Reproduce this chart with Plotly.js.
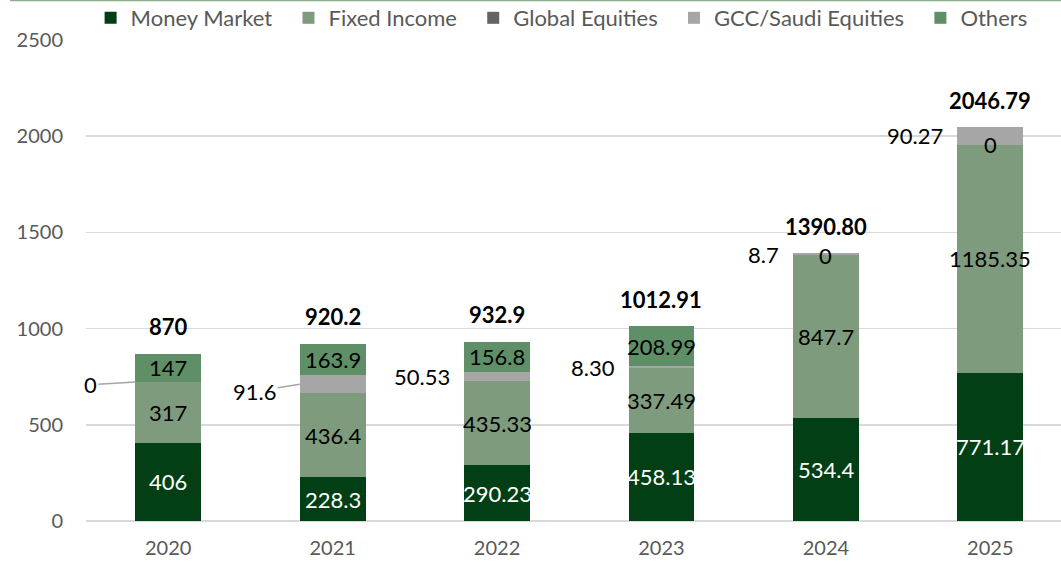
<!DOCTYPE html>
<html>
<head>
<meta charset="utf-8">
<script src="https://cdn.plot.ly/plotly-3.0.1.min.js"></script>
<style>html,body{margin:0;padding:0;background:#fff;}#chart{width:1061px;height:564px;}</style>
</head>
<body>
<div id="chart"></div>
<script>
const years = ['2020', '2021', '2022', '2023', '2024', '2025'];
const seriesNames = ['Money Market', 'Fixed Income', 'Global Equities', 'GCC/Saudi Equities', 'Others'];
const moneyMarket = [406, 228.3, 290.23, 458.13, 534.4, 771.17];
const fixedIncome = [317, 436.4, 435.33, 337.49, 847.7, 1185.35];
const globalEquities = [0, 0, 0, 0, 0, 0];
const gccSaudi = [0, 91.6, 50.53, 8.30, 8.7, 90.27];
const others = [147, 163.9, 156.8, 208.99, 0, 0];
const totalLabels = ['870', '920.2', '932.9', '1012.91', '1390.80', '2046.79'];
const mmLabels = ['406', '228.3', '290.23', '458.13', '534.4', '771.17'];
const fiLabels = ['317', '436.4', '435.33', '337.49', '847.7', '1185.35'];
const geLabels = ['', '', '', '', '0', '0'];
const gccLabels = ['0', '91.6', '50.53', '8.30', '8.7', '90.27'];
const othersLabels = ['147', '163.9', '156.8', '208.99', '', ''];

const FONT = 'Lato, "Open Sans", sans-serif';
const BW = 0.4;
const colors = ['#023F14', '#7F9B7E', '#636466', '#A6A6A6', '#5F8F66'];
const PAD = '\u00a0\u00a0';

function barTrace(idx, vals) {
  return {
    type: 'bar', name: seriesNames[idx] + PAD, x: years, y: vals, width: BW,
    marker: {color: colors[idx], line: {width: 0}},
    textposition: 'none', hoverinfo: 'skip'
  };
}

const traces = [
  barTrace(0, moneyMarket),
  barTrace(1, fixedIncome),
  barTrace(2, globalEquities),
  barTrace(3, gccSaudi),
  barTrace(4, others)
];

const annotations = [];
const lblFont = (c) => ({family: FONT, size: 22, color: c});
years.forEach((yr, i) => {
  const mm = moneyMarket[i], fi = fixedIncome[i], ge = globalEquities[i], g = gccSaudi[i], o = others[i];
  const total = mm + fi + ge + g + o;
  annotations.push({x: i, y: mm / 2, xref: 'x', yref: 'y', text: mmLabels[i], showarrow: false, font: lblFont('#ffffff')});
  annotations.push({x: i, y: mm + fi / 2, xref: 'x', yref: 'y', text: fiLabels[i], showarrow: false, font: lblFont('#000000')});
  if (geLabels[i]) {
    annotations.push({x: i, y: mm + fi + ge / 2, xref: 'x', yref: 'y', text: geLabels[i], showarrow: false, font: lblFont('#000000')});
  }
  const gMid = mm + fi + ge + g / 2;
  if (i === 0) {
    annotations.push({x: i - BW / 2, y: gMid, xref: 'x', yref: 'y', text: gccLabels[i], showarrow: true,
      arrowhead: 0, arrowwidth: 1.5, arrowcolor: '#A6A6A6', ax: -45, ay: 3, standoff: 0, font: lblFont('#000000')});
  } else if (i === 1) {
    annotations.push({x: i - BW / 2, y: gMid, xref: 'x', yref: 'y', text: gccLabels[i], showarrow: true,
      arrowhead: 0, arrowwidth: 1.5, arrowcolor: '#A6A6A6', ax: -45, ay: 7, standoff: 0, font: lblFont('#000000')});
  } else {
    annotations.push({x: i - BW / 2, y: gMid, xref: 'x', yref: 'y', text: gccLabels[i], showarrow: false,
      xanchor: 'right', xshift: -12, font: lblFont('#000000')});
  }
  if (othersLabels[i]) {
    annotations.push({x: i, y: mm + fi + ge + g + o / 2, xref: 'x', yref: 'y', text: othersLabels[i], showarrow: false, font: lblFont('#000000')});
  }
  annotations.push({x: i, y: total, xref: 'x', yref: 'y', text: '<b>' + totalLabels[i] + '</b>', showarrow: false,
    yshift: 27, font: {family: FONT, size: 22, color: '#000000'}});
});

const layout = {
  width: 1061, height: 564,
  margin: {l: 86, r: 0, t: 40, b: 43, pad: 0},
  paper_bgcolor: '#ffffff', plot_bgcolor: '#ffffff',
  barmode: 'stack',
  font: {family: FONT, color: '#595959', size: 20},
  showlegend: true,
  legend: {
    orientation: 'h', xref: 'container', yref: 'container',
    x: 90.6 / 1061, xanchor: 'left', y: 1 - 18 / 564, yanchor: 'middle',
    bgcolor: 'rgba(0,0,0,0)',
    font: {family: FONT, size: 22, color: '#595959'},
    traceorder: 'normal', itemclick: false, itemdoubleclick: false,
    itemwidth: 30, tracegroupgap: 0
  },
  xaxis: {
    type: 'category', range: [-0.5, 5.43], showgrid: false, zeroline: false, showline: false,
    ticks: '', tickfont: {family: FONT, size: 20, color: '#595959'}, ticklabelstandoff: 13, fixedrange: true
  },
  yaxis: {
    range: [0, 2500], tickvals: [0, 500, 1000, 1500, 2000, 2500], showgrid: true, gridcolor: '#D9D9D9', gridwidth: 1.5,
    zeroline: true, zerolinecolor: '#D9D9D9', zerolinewidth: 1.5, showline: false, ticks: '',
    tickfont: {family: FONT, size: 20, color: '#595959'}, ticklabelstandoff: 22, fixedrange: true
  },
  shapes: [{
    type: 'line', xref: 'paper', yref: 'paper', x0: (10 - 86) / 975, x1: 1.01, y0: (521 - 0.5) / 481, y1: (521 - 0.5) / 481,
    line: {color: '#8DAF8D', width: 1.5}
  }],
  annotations: annotations
};

Plotly.newPlot('chart', traces, layout, {displayModeBar: false, staticPlot: true});
</script>
</body>
</html>
